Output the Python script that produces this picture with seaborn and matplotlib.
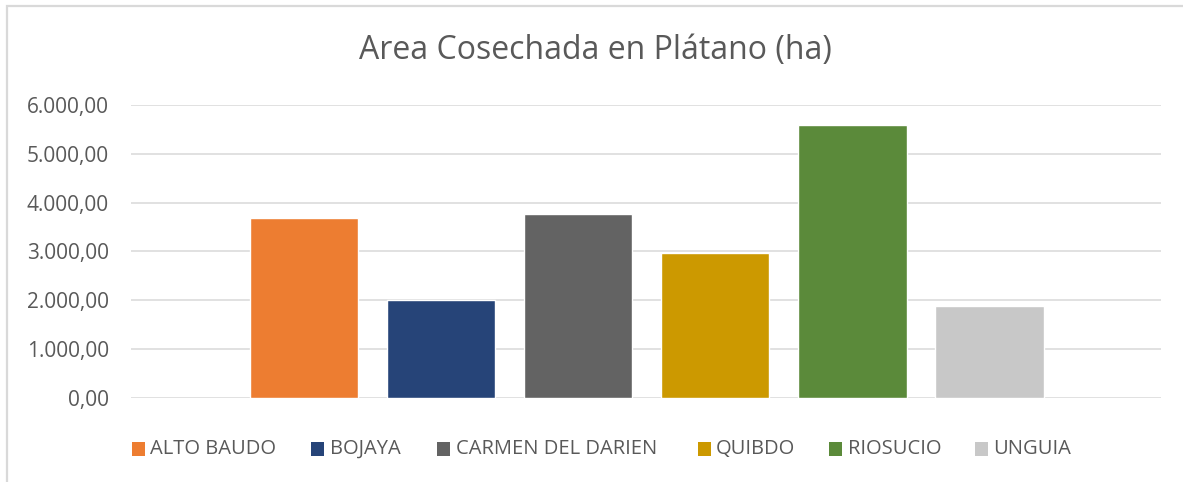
import matplotlib
matplotlib.use("Agg")
import matplotlib.pyplot as plt
from matplotlib.patches import Rectangle
from matplotlib.ticker import FuncFormatter
import seaborn as sns
import pandas as pd

# ---- data ----
municipios = ["ALTO BAUDO", "BOJAYA", "CARMEN DEL DARIEN", "QUIBDO", "RIOSUCIO", "UNGUIA"]
area_ha = [3680, 2000, 3765, 2965, 5590, 1880]
colores = ["#ED7D31", "#264478", "#636363", "#CC9900", "#5B8A3A", "#C8C8C8"]
titulo = "Area Cosechada en Plátano (ha)"
y_ticks = [0, 1000, 2000, 3000, 4000, 5000, 6000]

df = pd.DataFrame({"municipio": municipios, "area": area_ha})

sns.set_theme(style="white")
plt.rcParams["font.family"] = ["Open Sans", "DejaVu Sans"]
TXT = "#595959"

W, H = 1183, 482
fig = plt.figure(figsize=(W / 100, H / 100), dpi=100)
ax = fig.add_axes([131 / W, 1 - 397.7 / H, (1161 - 131) / W, (397.7 - 105) / H])

sns.barplot(data=df, x="municipio", y="area", hue="municipio",
            palette=colores, width=0.79, saturation=1, legend=False, ax=ax,
            zorder=3)

ax.set_ylim(0, 6000)
ax.set_xlim(-1.262, 6.251)
ax.set_yticks(y_ticks)
ax.yaxis.set_major_formatter(FuncFormatter(
    lambda v, p: f"{v:,.2f}".replace(",", "X").replace(".", ",").replace("X", ".")))
ax.set_xticks([])
ax.set_xlabel("")
ax.set_ylabel("")
for s in ax.spines.values():
    s.set_visible(False)
ax.grid(axis="y", color="#D9D9D9", linewidth=1.1, zorder=0)
ax.set_axisbelow(True)
ax.tick_params(axis="y", length=0, pad=16, labelsize=15, labelcolor=TXT)

fig.text(0.503, 1 - 50 / H, titulo, ha="center", va="center",
         fontsize=23, color=TXT)

# legend entries laid out like the Excel legend (left edge of each marker, px)
legend_x_px = [131.7, 311, 437, 697.7, 829, 975]
legend_y_px = 449
msize = 13.3
for x0, nombre, col in zip(legend_x_px, municipios, colores):
    fig.add_artist(Rectangle((x0 / W, 1 - (legend_y_px + msize / 2) / H),
                             msize / W, msize / H, transform=fig.transFigure,
                             facecolor=col, edgecolor="none"))
    fig.text((x0 + 18.5) / W, 1 - legend_y_px / H, nombre, ha="left",
             va="center", fontsize=14.5, color=TXT)

# chart border (top and left visible)
fig.add_artist(Rectangle((6.7 / W, -0.1), 1.2, 1.1 - 5.7 / H, transform=fig.transFigure,
                         fill=False, edgecolor="#D9D9D9", linewidth=1.6, clip_on=False))

fig.savefig("out.png", dpi=100, facecolor="white")
